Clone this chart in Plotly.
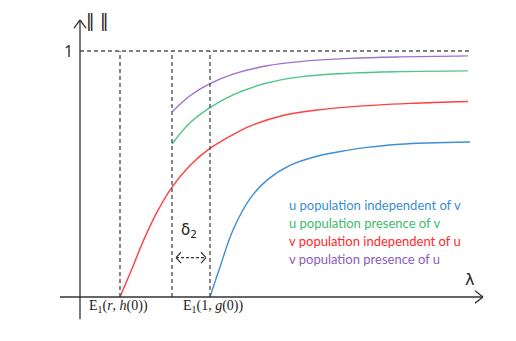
import plotly.graph_objects as go

# Curves (lambda in arbitrary units, norm between 0 and 1).
lam_v_indep = [0.40, 0.53, 0.63, 0.77, 0.92, 1.10, 1.30, 1.53, 1.70, 2.03, 2.37, 2.70, 3.30, 3.88]
val_v_indep = [0.0, 0.125, 0.225, 0.345, 0.447, 0.535, 0.604, 0.660, 0.695, 0.738, 0.760, 0.773, 0.787, 0.795]

lam_u_indep = [1.30, 1.40, 1.53, 1.70, 1.87, 2.10, 2.37, 2.67, 2.87, 3.20, 3.90]
val_u_indep = [0.0, 0.122, 0.272, 0.400, 0.475, 0.535, 0.572, 0.596, 0.608, 0.621, 0.630]

lam_u_pres = [0.92, 1.10, 1.30, 1.53, 1.87, 2.20, 2.70, 3.20, 3.88]
val_u_pres = [0.622, 0.708, 0.770, 0.822, 0.870, 0.895, 0.910, 0.916, 0.919]

lam_v_pres = [0.92, 1.10, 1.30, 1.53, 1.87, 2.20, 2.70, 3.20, 3.88]
val_v_pres = [0.752, 0.818, 0.867, 0.906, 0.940, 0.957, 0.970, 0.976, 0.980]

# Special lambda positions
lam_r = 0.40      # E1(r, h(0))
lam_shift = 0.92  # start of the curves with presence
lam_g = 1.30      # E1(1, g(0))
lam_end = 3.90
lam_axis_end = 4.03
top_level = 1.0

series_names = ["u population independent of v", "u population presence of v",
                "v population independent of u", "v population presence of u"]
line_colors = ["#3d8fd6", "#4cc785", "#ff4040", "#9d72cc"]
text_colors = ["#3a8dd2", "#3dbb6c", "#ff2a2a", "#8a5cbf"]

fig = go.Figure()

curves = [(lam_u_indep, val_u_indep), (lam_u_pres, val_u_pres),
          (lam_v_indep, val_v_indep), (lam_v_pres, val_v_pres)]
for (xs, ys), name, color in zip(curves, series_names, line_colors):
    fig.add_trace(go.Scatter(x=xs, y=ys, mode="lines", name=name,
                             line=dict(color=color, width=1.4, shape="spline", smoothing=1.0),
                             showlegend=False, hoverinfo="skip"))

dash = dict(color="#555555", width=1.4, dash="4px,3px")
axis_line = dict(color="#333333", width=1.3)

shapes = []
# dashed guides
shapes.append(dict(type="line", x0=0, x1=lam_end, y0=top_level, y1=top_level, line=dash))
for lx in [lam_r, lam_shift, lam_g]:
    shapes.append(dict(type="line", x0=lx, x1=lx, y0=0, y1=top_level, line=dash))

# axes
shapes.append(dict(type="line", x0=-0.20, x1=lam_axis_end, y0=0, y1=0, line=axis_line))
shapes.append(dict(type="line", x0=0, x1=0, y0=-0.09, y1=1.126, line=axis_line))
# arrow heads (open)
shapes.append(dict(type="line", x0=lam_axis_end, x1=lam_axis_end - 0.08, y0=0, y1=0.025, line=axis_line))
shapes.append(dict(type="line", x0=lam_axis_end, x1=lam_axis_end - 0.08, y0=0, y1=-0.025, line=axis_line))
shapes.append(dict(type="line", x0=0, x1=-0.06, y0=1.126, y1=1.093, line=axis_line))
shapes.append(dict(type="line", x0=0, x1=0.06, y0=1.126, y1=1.093, line=axis_line))

# delta_2 double arrow
arr_y = 0.16
a0, a1 = lam_shift + 0.04, lam_g - 0.04
arrow = dict(color="#333333", width=1.2)
shapes.append(dict(type="line", x0=a0, x1=a1, y0=arr_y, y1=arr_y,
                   line=dict(color="#333333", width=1.2, dash="3px,2px")))
shapes.append(dict(type="line", x0=a0, x1=a0 + 0.05, y0=arr_y, y1=arr_y + 0.022, line=arrow))
shapes.append(dict(type="line", x0=a0, x1=a0 + 0.05, y0=arr_y, y1=arr_y - 0.022, line=arrow))
shapes.append(dict(type="line", x0=a1, x1=a1 - 0.05, y0=arr_y, y1=arr_y + 0.022, line=arrow))
shapes.append(dict(type="line", x0=a1, x1=a1 - 0.05, y0=arr_y, y1=arr_y - 0.022, line=arrow))

annotations = [
    dict(x=-0.12, y=top_level, text="1", font=dict(size=16, color="#222222", family="Open Sans")),
    dict(x=0.17, y=1.12, text="‖ ‖", font=dict(size=17, color="#222222", family="DejaVu Sans")),
    dict(x=3.89, y=0.07, text="λ", font=dict(size=16, color="#222222", family="DejaVu Sans")),
    dict(x=1.09, y=0.27, text="δ<sub>2</sub>", font=dict(size=15, color="#222222", family="DejaVu Sans")),
    dict(x=0.38, y=-0.037, text="E<sub>1</sub>(<i>r</i>, <i>h</i>(0))",
         font=dict(size=14, color="#222222", family="Liberation Serif")),
    dict(x=1.33, y=-0.037, text="E<sub>1</sub>(1, <i>g</i>(0))",
         font=dict(size=14, color="#222222", family="Liberation Serif")),
]
for i, (name, color) in enumerate(zip(series_names, text_colors)):
    annotations.append(dict(x=2.07, y=0.374 - i * 0.073, text=name, xanchor="left",
                            font=dict(size=13, color=color, family="Lato")))
for a in annotations:
    a.setdefault("showarrow", False)
    a.setdefault("xanchor", "center")
    a["yanchor"] = "middle"

# page body keeps an 8px margin, so the figure is 8px smaller on each side
fig.update_layout(
    width=508, height=333,
    margin=dict(l=0, r=0, t=0, b=0),
    paper_bgcolor="white", plot_bgcolor="white",
    xaxis=dict(range=[-0.72, 4.36], visible=False, fixedrange=True),
    yaxis=dict(range=[-0.1789, 1.1748], visible=False, fixedrange=True),
    shapes=shapes, annotations=annotations,
)

fig.write_html("out.html")
